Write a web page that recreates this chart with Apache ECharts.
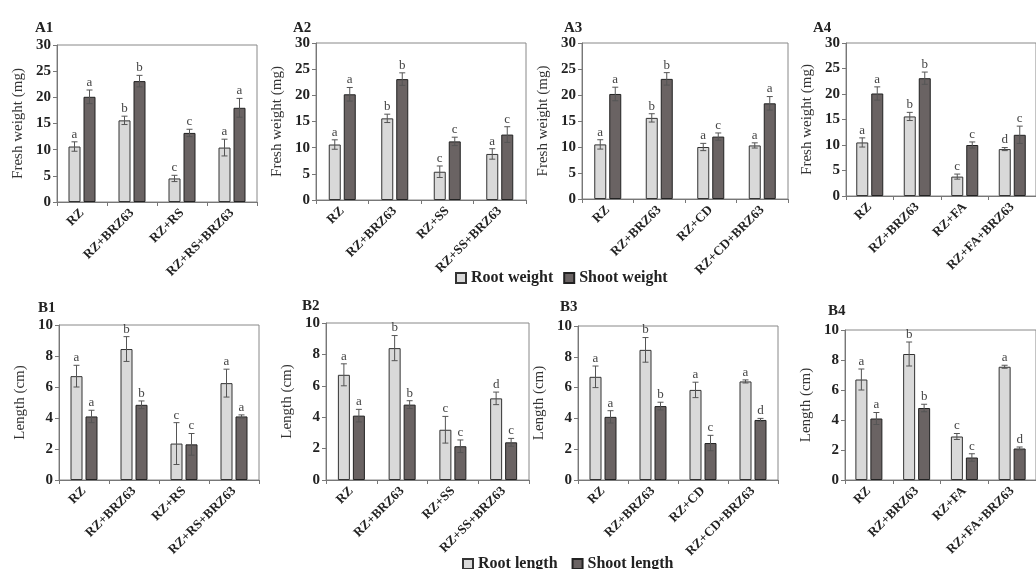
<!DOCTYPE html>
<html><head><meta charset="utf-8">
<script src="https://cdn.jsdelivr.net/npm/echarts@6/dist/echarts.min.js"></script>
<style>html,body{margin:0;padding:0;background:#fff}#c{width:1036px;height:569px}</style>
</head><body><div id="c"></div>
<script>
// ---- categories ----
const catsA1 = ['RZ','RZ+BRZ63','RZ+RS','RZ+RS+BRZ63'];
const catsA2 = ['RZ','RZ+BRZ63','RZ+SS','RZ+SS+BRZ63'];
const catsA3 = ['RZ','RZ+BRZ63','RZ+CD','RZ+CD+BRZ63'];
const catsA4 = ['RZ','RZ+BRZ63','RZ+FA','RZ+FA+BRZ63'];
// ---- fresh weight (mg) ----
const a1Root = [10.6, 15.6, 4.5, 10.4];   const a1RootErr = [0.9, 0.8, 0.6, 1.6];
const a1Shoot = [20.1, 23.1, 13.2, 18.0]; const a1ShootErr = [1.3, 1.1, 0.7, 1.8];
const a2Root = [10.6, 15.6, 5.4, 8.8];    const a2RootErr = [0.9, 0.8, 1.1, 1.0];
const a2Shoot = [20.2, 23.1, 11.2, 12.5]; const a2ShootErr = [1.3, 1.2, 0.8, 1.5];
const a3Root = [10.5, 15.6, 10.0, 10.3];  const a3RootErr = [0.9, 0.8, 0.7, 0.5];
const a3Shoot = [20.2, 23.1, 12.0, 18.4]; const a3ShootErr = [1.3, 1.2, 0.7, 1.3];
const a4Root = [10.5, 15.6, 3.8, 9.2];    const a4RootErr = [0.9, 0.8, 0.5, 0.3];
const a4Shoot = [20.1, 23.1, 10.0, 12.0]; const a4ShootErr = [1.3, 1.2, 0.6, 1.7];
// ---- length (cm) ----
const b1Root = [6.7, 8.45, 2.35, 6.25];   const b1RootErr = [0.7, 0.8, 1.35, 0.9];
const b1Shoot = [4.1, 4.85, 2.3, 4.1];    const b1ShootErr = [0.4, 0.25, 0.7, 0.1];
const b2Root = [6.7, 8.4, 3.2, 5.2];      const b2RootErr = [0.7, 0.8, 0.85, 0.4];
const b2Shoot = [4.1, 4.8, 2.15, 2.4];    const b2ShootErr = [0.4, 0.25, 0.4, 0.25];
const b3Root = [6.7, 8.45, 5.85, 6.4];    const b3RootErr = [0.7, 0.8, 0.5, 0.1];
const b3Shoot = [4.1, 4.8, 2.4, 3.9];     const b3ShootErr = [0.4, 0.25, 0.5, 0.1];
const b4Root = [6.7, 8.4, 2.9, 7.55];     const b4RootErr = [0.7, 0.8, 0.2, 0.1];
const b4Shoot = [4.1, 4.8, 1.5, 2.1];     const b4ShootErr = [0.4, 0.25, 0.25, 0.1];
// ---- significance letters ----
const a1RootSig = ['a','b','c','a'];  const a1ShootSig = ['a','b','c','a'];
const a2RootSig = ['a','b','c','a'];  const a2ShootSig = ['a','b','c','c'];
const a3RootSig = ['a','b','a','a'];  const a3ShootSig = ['a','b','c','a'];
const a4RootSig = ['a','b','c','d'];  const a4ShootSig = ['a','b','c','c'];
const b1RootSig = ['a','b','c','a'];  const b1ShootSig = ['a','b','c','a'];
const b2RootSig = ['a','b','c','d'];  const b2ShootSig = ['a','b','c','c'];
const b3RootSig = ['a','b','a','a'];  const b3ShootSig = ['a','b','c','d'];
const b4RootSig = ['a','b','c','a'];  const b4ShootSig = ['a','b','c','d'];
// ---- tick settings ----
const weightTicks = {min: 0, max: 30, interval: 5};
const lengthTicks = {min: 0, max: 10, interval: 2};
const panelTitles = ['A1','A2','A3','A4','B1','B2','B3','B4'];

const SERIF = 'Liberation Serif';
const panels = [
  {cats: catsA1, r: a1Root, re: a1RootErr, s: a1Shoot, se: a1ShootErr, rs: a1RootSig, ss: a1ShootSig, kind: 'A', grid: {left: 57, top: 45, width: 200, height: 157}},
  {cats: catsA2, r: a2Root, re: a2RootErr, s: a2Shoot, se: a2ShootErr, rs: a2RootSig, ss: a2ShootSig, kind: 'A', grid: {left: 316, top: 43, width: 210, height: 157}},
  {cats: catsA3, r: a3Root, re: a3RootErr, s: a3Shoot, se: a3ShootErr, rs: a3RootSig, ss: a3ShootSig, kind: 'A', grid: {left: 582, top: 43, width: 206, height: 156}},
  {cats: catsA4, r: a4Root, re: a4RootErr, s: a4Shoot, se: a4ShootErr, rs: a4RootSig, ss: a4ShootSig, kind: 'A', grid: {left: 846, top: 43, width: 198, height: 153}},
  {cats: catsA1, r: b1Root, re: b1RootErr, s: b1Shoot, se: b1ShootErr, rs: b1RootSig, ss: b1ShootSig, kind: 'B', grid: {left: 59, top: 325, width: 200, height: 155}},
  {cats: catsA2, r: b2Root, re: b2RootErr, s: b2Shoot, se: b2ShootErr, rs: b2RootSig, ss: b2ShootSig, kind: 'B', grid: {left: 326, top: 323, width: 203, height: 157}},
  {cats: catsA3, r: b3Root, re: b3RootErr, s: b3Shoot, se: b3ShootErr, rs: b3RootSig, ss: b3ShootSig, kind: 'B', grid: {left: 578, top: 326, width: 200, height: 154}},
  {cats: catsA4, r: b4Root, re: b4RootErr, s: b4Shoot, se: b4ShootErr, rs: b4RootSig, ss: b4ShootSig, kind: 'B', grid: {left: 845, top: 330, width: 194, height: 150}}
];
const titlePos = [[30,16],[288,16],[559,16],[808,16],[33,296],[297,294],[555,295],[823,299]];

const ROOT_FILL = '#d9d9d9', SHOOT_FILL = '#6a6363';
const BAR_W = 12, OFF = 7.5;

function errSeries(idx, vals, errs, sig, off) {
  return {
    type: 'custom', xAxisIndex: idx, yAxisIndex: idx, silent: true, z: 5,
    data: vals.map((v, i) => [i, v, errs[i]]),
    renderItem: function (params, api) {
      const i = api.value(0), m = api.value(1), e = api.value(2);
      const base = api.coord([i, m]);
      const top = api.coord([i, m + e]);
      const bot = api.coord([i, m - e]);
      const x = base[0] + off;
      const st = {stroke: '#555', lineWidth: 1};
      return {type: 'group', children: [
        {type: 'line', shape: {x1: x, y1: top[1], x2: x, y2: bot[1]}, style: st},
        {type: 'line', shape: {x1: x - 3, y1: top[1], x2: x + 3, y2: top[1]}, style: st},
        {type: 'line', shape: {x1: x - 3, y1: bot[1], x2: x + 3, y2: bot[1]}, style: st},
        {type: 'text', style: {text: sig[params.dataIndex], x: x, y: top[1] - 1, textAlign: 'center', textVerticalAlign: 'bottom', fill: '#444', font: '13px "' + SERIF + '"'}}
      ]};
    }
  };
}

const grids = [], xAxes = [], yAxes = [], series = [], titles = [];
panels.forEach((p, k) => {
  grids.push(Object.assign({show: true, borderColor: '#888', borderWidth: 1, containLabel: false}, p.grid));
  xAxes.push({type: 'category', gridIndex: k, data: p.cats,
    axisLine: {lineStyle: {color: '#777'}}, axisTick: {show: true, length: 4, lineStyle: {color: '#777'}},
    axisLabel: {rotate: 45, interval: 0, fontFamily: SERIF, fontWeight: 'bold', fontSize: 13, color: '#222', margin: 9}});
  const t = p.kind === 'A' ? weightTicks : lengthTicks;
  yAxes.push({type: 'value', gridIndex: k, min: t.min, max: t.max, interval: t.interval,
    name: p.kind === 'A' ? 'Fresh weight (mg)' : 'Length (cm)', nameLocation: 'middle', nameGap: 31,
    nameTextStyle: {fontFamily: SERIF, fontSize: 15, color: '#333'},
    splitLine: {show: false}, axisLine: {show: true, lineStyle: {color: '#777'}},
    axisTick: {show: true, length: 4, lineStyle: {color: '#777'}},
    axisLabel: {fontFamily: SERIF, fontWeight: 'bold', fontSize: 15, color: '#222', margin: 6}});
  const rn = p.kind === 'A' ? 'Root weight' : 'Root length';
  const sn = p.kind === 'A' ? 'Shoot weight' : 'Shoot length';
  series.push({type: 'bar', name: rn, xAxisIndex: k, yAxisIndex: k, data: p.r, barWidth: BAR_W, barGap: '25%',
    itemStyle: {color: ROOT_FILL, borderColor: '#333', borderWidth: 1}, silent: true});
  series.push({type: 'bar', name: sn, xAxisIndex: k, yAxisIndex: k, data: p.s, barWidth: BAR_W, barGap: '25%',
    itemStyle: {color: SHOOT_FILL, borderColor: '#222', borderWidth: 1}, silent: true});
  series.push(errSeries(k, p.r, p.re, p.rs, -OFF));
  series.push(errSeries(k, p.s, p.se, p.ss, OFF));
  titles.push({text: panelTitles[k], left: titlePos[k][0], top: titlePos[k][1],
    textStyle: {fontFamily: SERIF, fontWeight: 'bold', fontSize: 15, color: '#222'}});
});

const chart = echarts.init(document.getElementById('c'), null, {renderer: 'canvas'});
chart.setOption({
  animation: false,
  backgroundColor: '#fff',
  title: titles,
  grid: grids, xAxis: xAxes, yAxis: yAxes, series: series,
  legend: [
    {data: ['Root weight', 'Shoot weight'], left: 450, top: 265, icon: 'rect', itemWidth: 10, itemHeight: 10, itemGap: 10, selectedMode: false,
     textStyle: {fontFamily: SERIF, fontWeight: 'bold', fontSize: 16, color: '#222'}},
    {data: ['Root length', 'Shoot length'], left: 457, top: 551, icon: 'rect', itemWidth: 10, itemHeight: 10, itemGap: 14, selectedMode: false,
     textStyle: {fontFamily: SERIF, fontWeight: 'bold', fontSize: 16, color: '#222'}}
  ]
});
</script></body></html>
